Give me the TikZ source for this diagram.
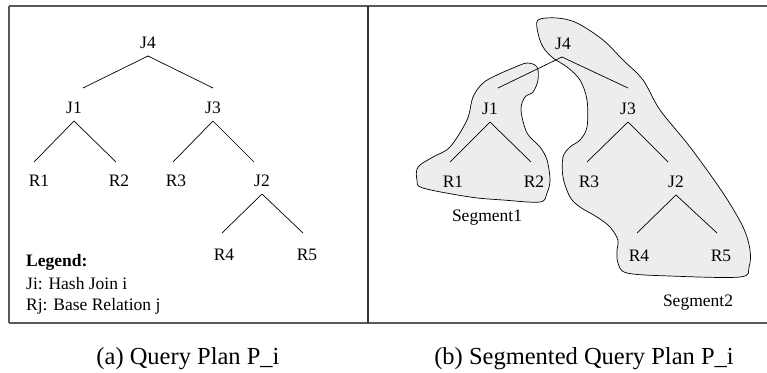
\documentclass[tikz,border=0pt]{standalone}
\usepackage{fontspec}
\setmainfont{Liberation Serif}
\begin{document}
\begin{tikzpicture}[x=1pt,y=-1pt,
  lbl/.style={inner sep=0pt,font=\fontsize{17.5}{20}\selectfont},
  edge/.style={line width=0.7pt,black},
  frame/.style={line width=1.3pt,draw=black!65},
  blob/.style={draw=black,line width=0.7pt,fill=black!7},
  captxt/.style={inner sep=0pt,anchor=base,font=\fontsize{24.5}{28}\selectfont},
  leg/.style={inner sep=0pt,anchor=west,font=\fontsize{17.5}{20}\selectfont}]
\useasboundingbox (0,0) rectangle (767,372);
% frame
\draw[frame] (9,6) -- (775,6);
\draw[frame] (9,323) -- (775,323);
\draw[frame] (9,6) -- (9,323);
\draw[line width=1.1pt,draw=black!80] (368,6) -- (368,323);
% blobs (right panel)
\draw[blob] plot[smooth cycle,tension=0.55] coordinates {
 (537,67) (538,80) (533,92) (525,97) (521,110) (527,133) (540,147) (547,160)
 (550,180) (547,193) (540,202) (503,200) (470,197) (423,188) (417,180) (418,167)
 (433,157) (450,147) (467,120) (473,97) (483,83) (497,75) (513,68) (527,63)};
\draw[blob] plot[smooth cycle,tension=0.55] coordinates {
 (538,20) (557,18) (577,23) (603,40) (623,60) (643,80) (660,110) (690,147)
 (723,193) (743,227) (750,250) (749,267) (740,277) (670,276) (627,273) (618,263)
 (617,250) (618,240) (610,227) (597,217) (580,207) (570,197) (563,177) (563,157)
 (570,147) (580,140) (587,127) (587,100) (580,80) (567,67) (553,58) (543,47) (538,33)};
% left tree
\node[lbl] (aJ4) at (148,43) {J4};
\node[lbl] (aJ1) at (74,108) {J1};
\node[lbl] (aJ3) at (213,108) {J3};
\node[lbl] (aR1) at (39,181) {R1};
\node[lbl] (aR2) at (119,181) {R2};
\node[lbl] (aR3) at (176,181) {R3};
\node[lbl] (aJ2) at (262,181) {J2};
\node[lbl] (aR4) at (224,255) {R4};
\node[lbl] (aR5) at (307,255) {R5};
\draw[edge] ([shift={(0,13)}]aJ4.center) -- ([shift={(9,-20)}]aJ1.center);
\draw[edge] ([shift={(0,13)}]aJ4.center) -- ([shift={(0,-20)}]aJ3.center);
\draw[edge] ([shift={(0,13)}]aJ1.center) -- ([shift={(-5,-19)}]aR1.center);
\draw[edge] ([shift={(0,13)}]aJ1.center) -- ([shift={(-3,-19)}]aR2.center);
\draw[edge] ([shift={(0,13)}]aJ3.center) -- ([shift={(-3,-19)}]aR3.center);
\draw[edge] ([shift={(0,13)}]aJ3.center) -- ([shift={(-8,-19)}]aJ2.center);
\draw[edge] ([shift={(0,13)}]aJ2.center) -- ([shift={(-2,-22)}]aR4.center);
\draw[edge] ([shift={(0,13)}]aJ2.center) -- ([shift={(-4,-22)}]aR5.center);
% legend
\node[leg] (lg1) at (26,262) {\textbf{Legend:}};
\node[leg] (lg2) at (26,284) {Ji: Hash Join i};
\node[leg] (lg3) at (26,306) {Rj: Base Relation j};
% right tree
\node[lbl] (bJ4) at (563,44) {J4};
\node[lbl] (bJ1) at (490,109) {J1};
\node[lbl] (bJ3) at (628,109) {J3};
\node[lbl] (bR1) at (453,182) {R1};
\node[lbl] (bR2) at (534,182) {R2};
\node[lbl] (bR3) at (589,182) {R3};
\node[lbl] (bJ2) at (676,182) {J2};
\node[lbl] (bR4) at (639,256) {R4};
\node[lbl] (bR5) at (721,256) {R5};
\draw[edge] ([shift={(-1,13)}]bJ4.center) -- ([shift={(8,-21)}]bJ1.center);
\draw[edge] ([shift={(-1,13)}]bJ4.center) -- ([shift={(0,-21)}]bJ3.center);
\draw[edge] ([shift={(0,13)}]bJ1.center) -- ([shift={(-3,-20)}]bR1.center);
\draw[edge] ([shift={(0,13)}]bJ1.center) -- ([shift={(-3,-20)}]bR2.center);
\draw[edge] ([shift={(0,13)}]bJ3.center) -- ([shift={(-2,-20)}]bR3.center);
\draw[edge] ([shift={(0,13)}]bJ3.center) -- ([shift={(-8,-20)}]bJ2.center);
\draw[edge] ([shift={(0,13)}]bJ2.center) -- ([shift={(-2,-23)}]bR4.center);
\draw[edge] ([shift={(0,13)}]bJ2.center) -- ([shift={(-4,-23)}]bR5.center);
\node[lbl] (seg1) at (487,218) {Segment1};
\node[lbl] (seg2) at (698,303) {Segment2};
% captions
\node[captxt] (capa) at (188,364) {(a) Query Plan P\_i};
\node[captxt] (capb) at (584,364) {(b) Segmented Query Plan P\_i};
\end{tikzpicture}
\end{document}
